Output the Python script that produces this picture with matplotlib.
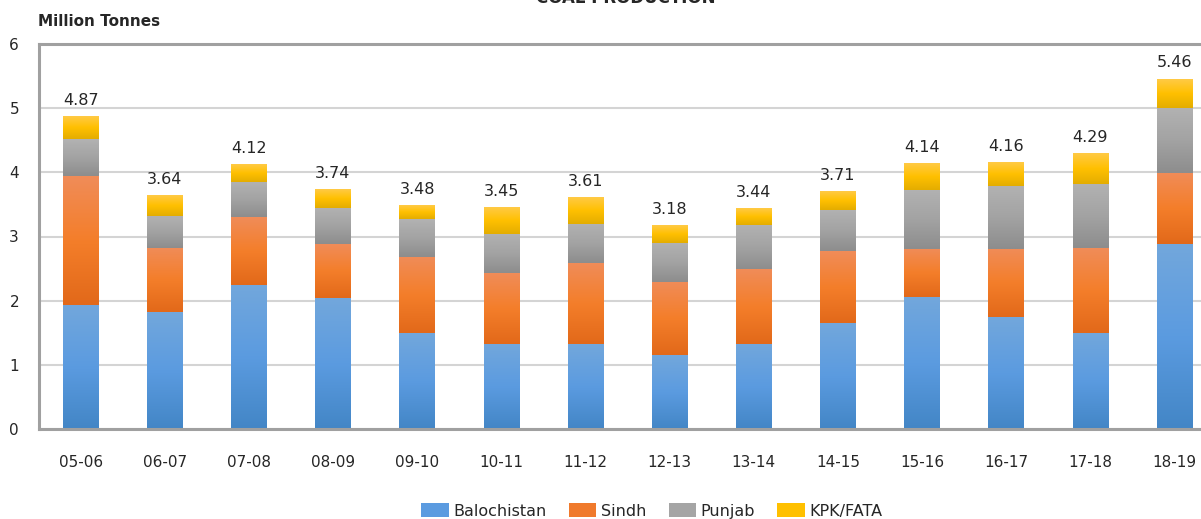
import numpy as np
import matplotlib
matplotlib.use("Agg")
import matplotlib.pyplot as plt
from matplotlib.patches import Patch

years = ["05-06", "06-07", "07-08", "08-09", "09-10", "10-11", "11-12",
         "12-13", "13-14", "14-15", "15-16", "16-17", "17-18", "18-19"]

balochistan = [1.94, 1.82, 2.25, 2.04, 1.49, 1.33, 1.32, 1.15, 1.33, 1.65, 2.05, 1.74, 1.50, 2.88]
sindh = [2.01, 1.00, 1.05, 0.84, 1.19, 1.10, 1.26, 1.14, 1.16, 1.12, 0.75, 1.06, 1.32, 1.11]
punjab = [0.57, 0.50, 0.55, 0.57, 0.59, 0.61, 0.62, 0.61, 0.69, 0.65, 0.93, 0.99, 1.00, 1.02]
kpk = [0.35, 0.32, 0.27, 0.29, 0.21, 0.41, 0.41, 0.28, 0.26, 0.29, 0.41, 0.37, 0.47, 0.45]
totals = [4.87, 3.64, 4.12, 3.74, 3.48, 3.45, 3.61, 3.18, 3.44, 3.71, 4.14, 4.16, 4.29, 5.46]

series = [("Balochistan", balochistan), ("Sindh", sindh), ("Punjab", punjab), ("KPK/FATA", kpk)]

# gradient stops (top, middle, bottom) for each series
grads = {
    "Balochistan": ["#72a7dc", "#5b9be0", "#4386c6"],
    "Sindh": ["#f08c58", "#f47e2a", "#e2691a"],
    "Punjab": ["#b2b2b2", "#a3a3a3", "#8d8d8d"],
    "KPK/FATA": ["#ffca45", "#ffc000", "#e4ad00"],
}
solid = {"Balochistan": "#5b9be0", "Sindh": "#f07a2c", "Punjab": "#a5a5a5", "KPK/FATA": "#ffc000"}


def grad_image(stops, n=64):
    cols = np.array([matplotlib.colors.to_rgb(c) for c in stops])
    t = np.linspace(0, 1, n)
    pos = np.linspace(0, 1, len(stops))
    img = np.stack([np.interp(t, pos, cols[:, k]) for k in range(3)], axis=-1)
    return img[:, None, :]  # row 0 = top


fig = plt.figure(figsize=(12.01, 5.19), dpi=100)
ax = fig.add_axes([38.5 / 1201, 90 / 519, 1178 / 1201, 385 / 519])

x = np.arange(len(years))
bottom = np.zeros(len(years))
for name, vals in series:
    bars = ax.bar(x, vals, width=0.42, bottom=bottom, color=solid[name], zorder=2)
    img = grad_image(grads[name])
    for r in bars:
        x0, y0 = r.get_x(), r.get_y()
        ax.imshow(img, extent=[x0, x0 + r.get_width(), y0, y0 + r.get_height()],
                  aspect="auto", zorder=2.5, interpolation="bilinear")
    bottom += np.array(vals)

for xi, t in zip(x, totals):
    ax.annotate(f"{t:.2f}", (xi, t), xytext=(0, 6), textcoords="offset points",
                ha="center", va="bottom", fontsize=11.5, color="#262626")

ax.set_xlim(-0.5, len(years) - 0.5)
ax.set_ylim(0, 6)
ax.set_yticks(range(7))
ax.set_xticks(x)
ax.set_xticklabels(years)
ax.tick_params(axis="both", length=0, labelsize=11, colors="#262626")
ax.tick_params(axis="y", pad=14)
ax.tick_params(axis="x", pad=19)
ax.yaxis.grid(True, color="#d4d4d4", linewidth=1.5)
ax.set_axisbelow(True)

for s in ["left", "bottom", "top"]:
    ax.spines[s].set_color("#a0a0a0")
    ax.spines[s].set_linewidth(2.2)
ax.spines["right"].set_visible(False)

fig.text(38 / 1201, 1 - 21 / 519, "Million Tonnes", fontsize=11, fontweight="bold",
         color="#262626", va="center", ha="left")
fig.text(626 / 1201, 1 - 3 / 519, "COAL PRODUCTION", fontsize=12, fontweight="bold",
         color="#262626", va="baseline", ha="center")

handles = [Patch(facecolor=solid[n], edgecolor="none") for n, _ in series]
fig.legend(handles, [n for n, _ in series], loc="center", bbox_to_anchor=(652 / 1201, 8 / 519),
           ncol=4, frameon=False, fontsize=11.5, handlelength=1.7, handleheight=1.0,
           handletextpad=0.3, columnspacing=1.4, labelcolor="#262626")

fig.savefig("out.png", dpi=100)
